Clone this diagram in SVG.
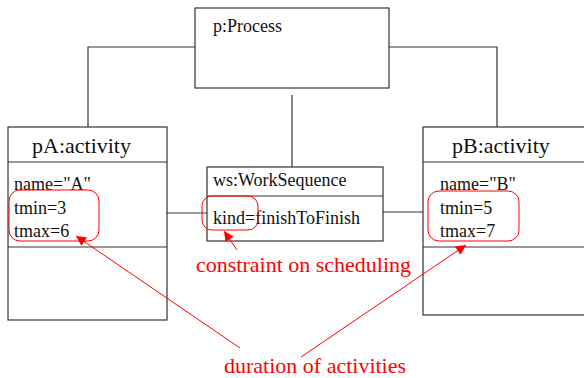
<svg xmlns="http://www.w3.org/2000/svg" width="584" height="378" viewBox="0 0 584 378">
  <style>
    .box { fill: #fff; stroke: #333; stroke-width: 1.2; }
    .line { stroke: #333; stroke-width: 1.2; fill: none; }
    text { font-family: "Liberation Serif", "Times New Roman", Times, "DejaVu Serif", serif; }
    .t { fill: #111; }
    .attr { font-size: 18px; }
    .title { font-size: 22px; }
    .note { font-size: 22px; fill: #ff0000; }
    .hl { fill: none; stroke: #ff0000; stroke-width: 1; }
    .ptr { stroke: #ff0000; stroke-width: 1; fill: none; marker-end: url(#arrow); }
  </style>
  <defs>
    <marker id="arrow" viewBox="0 0 10 10" refX="10" refY="5" markerWidth="14" markerHeight="10" markerUnits="userSpaceOnUse" orient="auto">
      <path d="M0,0 L10,5 L0,10 z" fill="#ff0000"/>
    </marker>
  </defs>
  <rect width="584" height="378" fill="#fff"/>

  <g id="connectors">
    <polyline class="line" points="88,127 88,47 195,47"/>
    <polyline class="line" points="389,47 497,47 497,127"/>
    <line class="line" x1="292" y1="95" x2="292" y2="167"/>
    <line class="line" x1="167" y1="213" x2="207" y2="213"/>
    <line class="line" x1="383" y1="212" x2="423" y2="212"/>
  </g>

  <g id="process">
    <rect class="box" x="195" y="8" width="194" height="80"/>
    <text class="t attr" font-family="Liberation Serif, serif" x="213" y="32">p:Process</text>
  </g>

  <g id="pA">
    <rect class="box" x="8" y="127" width="159" height="193"/>
    <line class="line" x1="8" y1="162" x2="167" y2="162"/>
    <line class="line" x1="8" y1="247" x2="167" y2="247"/>
    <text class="t title" x="32" y="153">pA:activity</text>
    <text class="t attr" x="14" y="190">name="A"</text>
    <text class="t attr" x="14" y="214">tmin=3</text>
    <text class="t attr" x="14" y="237">tmax=6</text>
  </g>

  <g id="ws">
    <rect class="box" x="207" y="167" width="176" height="74"/>
    <line class="line" x1="207" y1="196" x2="383" y2="196"/>
    <text class="t attr" x="213" y="186">ws:WorkSequence</text>
    <text class="t attr" x="213" y="224">kind=finishToFinish</text>
  </g>

  <g id="pB">
    <rect class="box" x="423" y="127" width="170" height="188"/>
    <line class="line" x1="423" y1="162" x2="593" y2="162"/>
    <line class="line" x1="423" y1="247" x2="593" y2="247"/>
    <text class="t title" x="452" y="153">pB:activity</text>
    <text class="t attr" x="440" y="190">name="B"</text>
    <text class="t attr" x="440" y="214">tmin=5</text>
    <text class="t attr" x="440" y="237">tmax=7</text>
  </g>

  <g id="annotations">
    <rect class="hl" x="9" y="190" width="90" height="51" rx="11"/>
    <rect class="hl" x="202" y="196" width="56" height="34" rx="10"/>
    <rect class="hl" x="428" y="191" width="91" height="50" rx="11"/>
    <line class="ptr" x1="237" y1="250" x2="224" y2="231"/>
    <line class="ptr" x1="240" y1="348" x2="76" y2="236"/>
    <line class="ptr" x1="301" y1="357" x2="466" y2="245"/>
    <text class="note" x="196" y="272">constraint on scheduling</text>
    <text class="note" x="224" y="373">duration of activities</text>
  </g>
</svg>
